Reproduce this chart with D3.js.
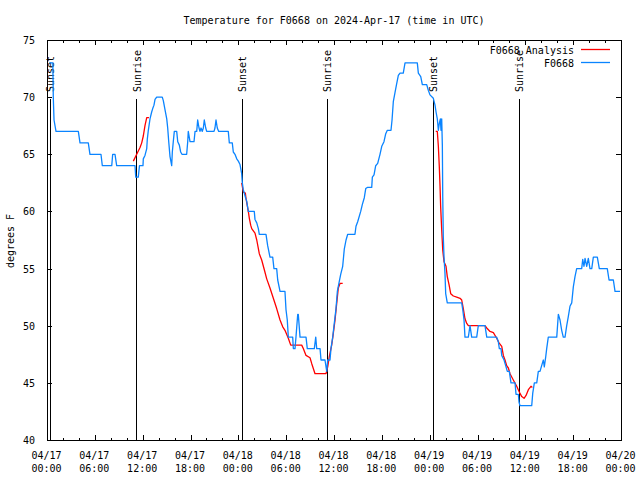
<!DOCTYPE html>
<html>
<head>
<meta charset="utf-8">
<script src="https://cdn.jsdelivr.net/npm/d3@7"></script>
<style>
  html, body { margin: 0; padding: 0; background: #fff; }
  svg { display: block; }
  text { font-family: "DejaVu Sans Mono", "Liberation Mono", monospace; font-size: 10px; fill: #000; }
</style>
</head>
<body>
<svg id="chart" width="640" height="480"></svg>
<script>
// ---------------- data (hours after 2024-04-17 00:00 UTC, degrees F) ----------------
const startUTC = Date.UTC(2024, 3, 17, 0, 0);
const endUTC = Date.UTC(2024, 3, 20, 0, 0);

const stationName = "F0668";
const analysisName = "F0668 Analysis";
const titleText = "Temperature for F0668 on 2024-Apr-17 (time in UTC)";
const yLabelText = "degrees F";
const yTickValues = [40, 45, 50, 55, 60, 65, 70, 75];

const observed = [
  [0.29,73],[0.73,73],[0.79,70],[0.88,68],[1.13,67],[3.93,67],[4.14,66],[5.18,66],[5.39,65],[6.77,65],
  [6.94,64],[8.12,64],[8.24,65],[8.53,65],[8.74,64],[11.04,64],[11.13,63],[11.45,63],[11.60,64],[12.04,64],
  [12.08,64.6],[12.29,64.9],[12.51,65.5],[12.58,66.3],[12.71,67.1],[12.92,68.1],[13.13,68.7],[13.26,69],[13.42,69.3],[13.55,69.8],
  [13.76,70],[14.46,70],[14.59,69.7],[14.80,68.9],[15.02,68.1],[15.14,67.3],[15.27,66.1],[15.43,64.8],[15.64,64],[15.72,65.2],
  [15.84,66.1],[15.97,67],[16.27,67],[16.40,66.1],[16.60,65.8],[16.77,65.2],[16.93,65],[17.52,65],[17.65,66.1],[17.72,67],
  [17.94,66.1],[18.44,66.1],[18.57,67],[18.78,67],[18.90,68],[19.07,67.3],[19.19,67],[19.32,67.3],[19.48,67],[19.61,67.3],
  [19.73,68],[19.91,67.3],[20.03,67],[20.95,67],[21.07,67.3],[21.20,68],[21.36,67.3],[21.54,67],[22.74,67],[22.87,66],
  [23.24,66],[23.37,65.2],[23.58,65],[23.80,64.6],[24.00,64.4],[24.21,64.1],[24.42,63.3],[24.50,62.5],[24.62,61.9],[24.93,61.15],
  [25.05,60.9],[25.25,60],[26.00,60],[26.09,59.3],[26.31,59],[26.51,58.5],[26.63,58],[27.47,58],[27.68,57],[27.97,56],
  [28.31,56],[28.47,55],[28.81,55],[28.94,54],[29.23,53],[29.85,53],[29.98,51.4],[30.14,50.5],[30.27,49],[30.82,49],
  [30.90,48],[31.11,48],[31.23,49],[31.45,51],[31.52,51],[31.74,49],[32.49,49],[32.65,48],[33.53,48],[33.71,49],
  [33.83,48],[34.25,48],[34.37,47],[34.87,47],[35.00,46.4],[35.09,46],[35.21,47],[35.50,47],[35.62,48],[35.84,49],
  [36.00,50],[36.25,51.5],[36.42,53],[36.67,53.9],[36.84,54.5],[37.09,55.2],[37.29,56.7],[37.51,57.5],[37.72,58],[38.63,58],
  [38.76,58.7],[38.97,59.1],[39.35,60],[39.55,60.6],[39.80,61.2],[39.98,62],[40.18,62.1],[40.73,62.1],[40.81,63],[41.02,63.2],
  [41.23,64],[41.48,64.2],[41.77,65],[41.99,65.7],[42.27,66.1],[42.49,66.8],[42.69,67.1],[43.15,67.1],[43.28,68],[43.44,69.6],
  [43.65,70.4],[43.87,71.2],[44.07,71.9],[44.28,72.1],[44.69,72.1],[44.91,73],[46.45,73],[46.58,72.1],[46.88,71.8],[47.08,71.1],
  [47.63,71.1],[47.83,70.6],[48.04,70.2],[48.46,69.9],[48.67,69.3],[48.80,68.7],[48.96,68.1],[49.09,67.1],[49.21,67.7],[49.34,68.1],
  [49.42,67.1],[49.51,68.1],[49.59,65.8],[49.64,61.3],[49.71,57.8],[49.80,56],[49.92,54.6],[50.01,52.8],[50.21,52],[52.02,52],
  [52.15,51.4],[52.31,50.5],[52.43,49],[52.85,49],[53.06,50],[53.27,49],[53.90,49],[54.10,50],[54.94,50],[55.16,49],
  [56.41,49],[56.61,48.6],[56.74,48],[56.95,48],[57.04,47.4],[57.33,47],[57.58,46.4],[57.74,46],[57.99,46],[58.20,45],
  [58.71,45],[58.83,44],[59.12,44],[59.21,43.3],[59.33,43],[60.80,43],[60.93,44.1],[61.13,45],[61.43,45],[61.63,46],
  [61.84,46],[62.13,46.7],[62.26,47],[62.38,46.4],[62.56,47.3],[62.68,48],[62.88,49],[63.94,49],[64.14,51],[64.35,50.5],
  [64.56,49.6],[64.76,49],[64.98,49],[65.19,50],[65.39,50.8],[65.60,51.7],[65.82,52],[66.02,53.4],[66.23,54.3],[66.44,55],
  [67.07,55],[67.20,55.8],[67.36,55.2],[67.49,55.9],[67.70,55.2],[67.90,55.9],[68.11,55],[68.33,55],[68.53,56],[69.03,56],
  [69.28,55],[70.28,55],[70.50,54],[71.04,54],[71.25,53],[71.88,53]
];

const analysisDay1 = [
  [10.83,64.4],[11.25,65],[11.67,65.6],[11.88,66],[12.08,66.6],[12.29,67.5],[12.51,68.2],[12.79,68.2]
];
const analysisDay2 = [
  [24.42,62.5],[24.62,61.7],[24.88,61.6],[24.96,61.15],[25.25,60],[25.38,59.4],[25.55,58.8],[25.68,58.5],[26.09,58.1],[26.31,57.5],
  [26.63,56.3],[26.93,55.75],[27.26,54.9],[27.56,54.1],[27.97,53.3],[28.39,52.4],[28.81,51.5],[29.23,50.5],[29.57,49.9],[29.85,49.6],
  [30.27,48.9],[30.57,48.3],[31.95,48.3],[32.15,48],[32.49,47.4],[32.99,47.2],[33.20,46.7],[33.62,45.8],[35.00,45.8],[35.21,46.4],
  [35.41,47.3],[35.71,48.3],[35.91,49.3],[36.13,50.5],[36.34,51.95],[36.54,53.3],[36.75,53.7],[37.09,53.7]
];
const analysisDay3 = [
  [48.76,67],[48.96,67],[49.09,65.7],[49.21,63.9],[49.30,62.2],[49.38,60.4],[49.51,58.4],[49.64,56.6],[49.80,55.6],[50.05,55.2],
  [50.21,54.3],[50.43,53.6],[50.64,52.8],[50.97,52.6],[51.39,52.5],[51.81,52.4],[52.02,52.25],[52.22,51.5],[52.43,50.6],[52.65,50.2],
  [52.85,50],[54.94,50],[55.16,49.8],[55.57,49.5],[55.99,49.4],[56.41,48.9],[56.70,48.5],[57.04,48.2],[57.24,47.4],[57.45,47],
  [57.66,46.5],[57.87,46.3],[58.08,45.8],[58.49,45.25],[58.92,44.7],[59.24,44.2],[59.55,43.8],[59.84,43.65],[60.09,43.9],[60.38,44.4],
  [60.71,44.7],[60.88,44.6]
];

const sunEvents = [
  { label: "Sunset",  time: "2024-04-17T00:25:00Z" },
  { label: "Sunrise", time: "2024-04-17T11:14:00Z" },
  { label: "Sunset",  time: "2024-04-18T00:30:00Z" },
  { label: "Sunrise", time: "2024-04-18T11:10:00Z" },
  { label: "Sunset",  time: "2024-04-19T00:28:00Z" },
  { label: "Sunrise", time: "2024-04-19T11:14:00Z" }
];

// ---------------- drawing ----------------
const svg = d3.select("#chart");
svg.append("rect").attr("width", 640).attr("height", 480).attr("fill", "#fff");

const L = 47, R = 621, T = 40, B = 440;
const toDate = h => new Date(startUTC + h * 3600e3);

const x = d3.scaleUtc().domain([new Date(startUTC), new Date(endUTC)]).range([L, R]);
const y = d3.scaleLinear().domain([40, 75]).range([B, T]);

const majorTicks = d3.utcHour.every(6).range(new Date(startUTC), new Date(endUTC + 1));
const minorTicks = d3.utcHour.every(2).range(new Date(startUTC), new Date(endUTC + 1))
  .filter(d => d.getUTCHours() % 6 !== 0);

const axisStyle = g => {
  g.selectAll("path.domain").attr("stroke", "#000").attr("stroke-width", 1);
  g.selectAll(".tick line").attr("stroke", "#000").attr("stroke-width", 1);
  g.attr("shape-rendering", "crispEdges").attr("font-family", null).attr("font-size", null);
};

// bottom axis (major, labeled)
const fmtDate = d3.utcFormat("%m/%d"), fmtTime = d3.utcFormat("%H:%M");
const gB = svg.append("g").attr("transform", `translate(0,${B})`)
  .call(d3.axisBottom(x).tickValues(majorTicks).tickSizeInner(-5).tickSizeOuter(0).tickFormat(() => ""))
  .call(axisStyle);
gB.selectAll(".tick text").each(function(d) {
  const t = d3.select(this).attr("y", null).attr("dy", null).attr("fill", "#000");
  t.append("tspan").attr("x", -1).attr("y", 18.5).text(fmtDate(d));
  t.append("tspan").attr("x", -1).attr("y", 31.5).text(fmtTime(d));
});
svg.append("g").attr("transform", `translate(0,${B})`)
  .call(d3.axisBottom(x).tickValues(minorTicks).tickSizeInner(-2.5).tickSizeOuter(0).tickFormat(""))
  .call(axisStyle).select("path.domain").remove();

// top axis
svg.append("g").attr("transform", `translate(0,${T})`)
  .call(d3.axisTop(x).tickValues(majorTicks).tickSizeInner(-5).tickSizeOuter(0).tickFormat(""))
  .call(axisStyle);
svg.append("g").attr("transform", `translate(0,${T})`)
  .call(d3.axisTop(x).tickValues(minorTicks).tickSizeInner(-2.5).tickSizeOuter(0).tickFormat(""))
  .call(axisStyle).select("path.domain").remove();

// left axis
const gL = svg.append("g").attr("transform", `translate(${L},0)`)
  .call(d3.axisLeft(y).tickValues(yTickValues).tickSizeInner(-5).tickSizeOuter(0).tickPadding(12).tickFormat(d3.format("d")))
  .call(axisStyle);
gL.selectAll(".tick text").attr("fill", "#000").attr("dy", "0.35em");

// right axis
svg.append("g").attr("transform", `translate(${R},0)`)
  .call(d3.axisRight(y).tickValues(yTickValues).tickSizeInner(-5).tickSizeOuter(0).tickFormat(""))
  .call(axisStyle);

// sunrise / sunset markers
const sunG = svg.append("g");
sunEvents.forEach(ev => {
  const xp = x(new Date(ev.time));
  sunG.append("line").attr("x1", xp).attr("x2", xp).attr("y1", 99).attr("y2", B)
    .attr("stroke", "#000").attr("stroke-width", 1).attr("shape-rendering", "crispEdges");
  sunG.append("text").attr("transform", `translate(${xp + 4},92) rotate(-90)`)
    .attr("text-anchor", "start").text(ev.label);
});

// data lines
const line = d3.line().x(d => x(toDate(d[0]))).y(d => y(d[1]));
const blueColor = "#0a84ff", redColor = "#ff0000";
[analysisDay1, analysisDay2, analysisDay3].forEach(seg => {
  svg.append("path").datum(seg).attr("d", line).attr("fill", "none")
    .attr("stroke", redColor).attr("stroke-width", 1.3).attr("stroke-linejoin", "round");
});
svg.append("path").datum(observed).attr("d", line).attr("fill", "none")
  .attr("stroke", blueColor).attr("stroke-width", 1.3).attr("stroke-linejoin", "round");

// title and y-axis label
svg.append("text").attr("x", (L + R) / 2).attr("y", 24).attr("text-anchor", "middle").text(titleText);
svg.append("text").attr("transform", "translate(14,241) rotate(-90)").attr("text-anchor", "middle").text(yLabelText);

// legend
const legend = [
  { name: analysisName, color: redColor, y: 49.5 },
  { name: stationName, color: blueColor, y: 62.5 }
];
legend.forEach(it => {
  svg.append("text").attr("x", 574).attr("y", it.y + 4).attr("text-anchor", "end").text(it.name);
  svg.append("line").attr("x1", 581).attr("x2", 610).attr("y1", it.y).attr("y2", it.y)
    .attr("stroke", it.color).attr("stroke-width", 1.3);
});
</script>
</body>
</html>
